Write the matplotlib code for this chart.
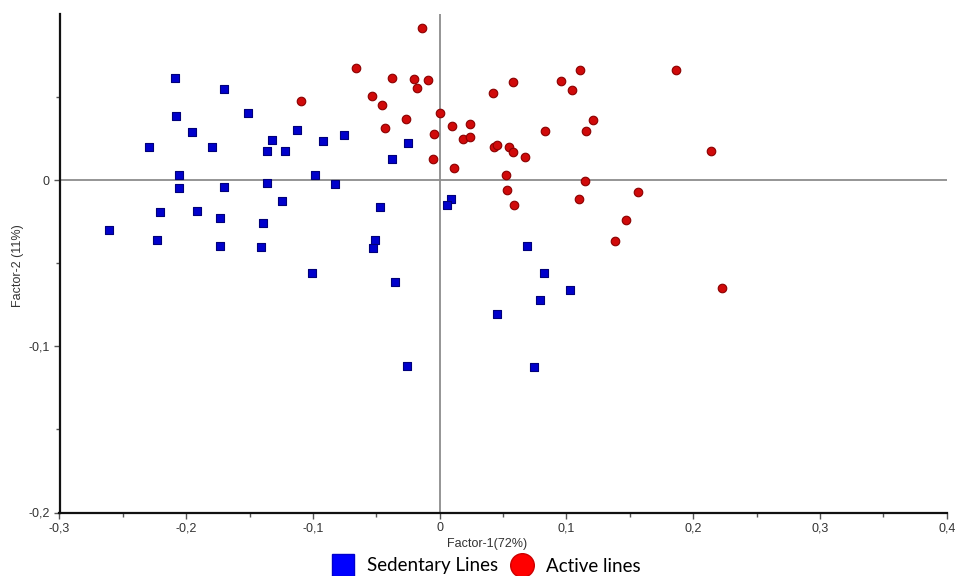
import matplotlib.pyplot as plt
from matplotlib.lines import Line2D
from matplotlib.ticker import FixedLocator, FuncFormatter

OUTPUT_IMAGE = "out.png"

# puntos (Factor-1, Factor-2)
sedentary_x = [-0.2086, -0.1705, -0.1513, -0.2078, -0.1952, -0.2294, -0.1800, -0.1324,
               -0.1365, -0.1221, -0.1126, -0.0918, -0.0758, -0.0250, -0.0376, -0.2058,
               -0.2058, -0.1705, -0.1365, -0.0984, -0.0823, -0.1247, -0.2210, -0.1916,
               -0.1734, -0.1391, -0.0471, -0.2607, -0.2228, -0.1734, -0.1413, -0.0507,
               -0.0529, -0.1010, -0.0355, 0.0092, 0.0061, -0.0260, 0.0450, 0.0689,
               0.0823, 0.1028, 0.0792, 0.0744]
sedentary_y = [0.0616, 0.0546, 0.0407, 0.0385, 0.0291, 0.0199, 0.0199, 0.0241,
               0.0174, 0.0174, 0.0299, 0.0235, 0.0271, 0.0221, 0.0125, 0.0030,
               -0.0050, -0.0042, -0.0020, 0.0030, -0.0026, -0.0128, -0.0193, -0.0185,
               -0.0230, -0.0257, -0.0164, -0.0301, -0.0359, -0.0397, -0.0403, -0.0359,
               -0.0411, -0.0561, -0.0612, -0.0113, -0.0150, -0.1117, -0.0808, -0.0395,
               -0.0561, -0.0662, -0.0720, -0.1125]

active_x = [-0.0137, -0.0661, -0.0376, -0.0203, -0.0092, -0.0176, -0.1097, -0.0537,
            -0.0452, -0.0263, -0.0432, 0.0006, 0.0100, -0.0042, -0.0053, 0.0110,
            0.0242, 0.0184, 0.0237, 0.0424, 0.0576, 0.0432, 0.0452, 0.0547,
            0.0579, 0.0671, 0.0831, 0.0957, 0.1107, 0.1042, 0.1213, 0.1155,
            0.1868, 0.2141, 0.0519, 0.0529, 0.0584, 0.1147, 0.1097, 0.1563,
            0.1468, 0.1384, 0.2228]
active_y = [0.0913, 0.0674, 0.0616, 0.0608, 0.0602, 0.0552, 0.0474, 0.0507,
            0.0455, 0.0371, 0.0313, 0.0407, 0.0327, 0.0277, 0.0125, 0.0074,
            0.0341, 0.0248, 0.0257, 0.0523, 0.0588, 0.0199, 0.0211, 0.0199,
            0.0167, 0.0138, 0.0297, 0.0596, 0.0660, 0.0543, 0.0363, 0.0297,
            0.0660, 0.0174, 0.0030, -0.0058, -0.0150, -0.0006, -0.0116, -0.0070,
            -0.0242, -0.0367, -0.0650]

x_major = [-0.3, -0.2, -0.1, 0.0, 0.1, 0.2, 0.3, 0.4]
x_minor = [-0.25, -0.15, -0.05, 0.05, 0.15, 0.25, 0.35]
y_major = [-0.2, -0.1, 0.0]
y_minor = [-0.15, -0.05, 0.05]


def coma(v, pos):
    if abs(v) < 1e-9:
        return "0"
    return f"{v:.1f}".replace(".", ",")


def main():
    plt.rcParams['font.family'] = ['Liberation Sans', 'DejaVu Sans']
    fig = plt.figure(figsize=(9.55, 5.76), dpi=100)
    ax = fig.add_axes([59.5 / 955, 1 - 512.5 / 576, (946.7 - 59.5) / 955, (512.5 - 14) / 576])

    ax.axhline(0, color='#8c8c8c', lw=1.3, zorder=1)
    ax.axvline(0, color='#8c8c8c', lw=1.3, zorder=1)

    ax.scatter(sedentary_x, sedentary_y, marker='s', s=30, color='#0000cc',
               edgecolor='#00007a', linewidth=0.8, zorder=3)
    ax.scatter(active_x, active_y, marker='o', s=38, color='#d00a0a',
               edgecolor='#8a0000', linewidth=0.8, zorder=3)

    ax.set_xlim(-0.3, 0.4)
    ax.set_ylim(-0.2, 0.1)

    for s in ['top', 'right']:
        ax.spines[s].set_visible(False)
    for s in ['left', 'bottom']:
        ax.spines[s].set_linewidth(1.6)
        ax.spines[s].set_color('#111111')

    ax.xaxis.set_major_locator(FixedLocator(x_major))
    ax.xaxis.set_minor_locator(FixedLocator(x_minor))
    ax.yaxis.set_major_locator(FixedLocator(y_major))
    ax.yaxis.set_minor_locator(FixedLocator(y_minor))
    ax.xaxis.set_major_formatter(FuncFormatter(coma))
    ax.yaxis.set_major_formatter(FuncFormatter(coma))

    ax.tick_params(which='major', length=4, width=1, color='#555555', labelsize=9,
                   labelcolor='#333333', pad=3)
    ax.tick_params(which='minor', length=3, width=1, color='#555555')

    fig.text(487 / 955, 1 - 544 / 576, "Factor-1(72%)", ha='center', va='center',
             fontsize=9, color='#333333')
    fig.text(18 / 955, 1 - 266 / 576, "Factor-2 (11%)", ha='center', va='center',
             rotation=90, fontsize=9, color='#333333')

    handles = [
        Line2D([], [], marker='s', linestyle='none', markersize=16,
               markerfacecolor='#0000ff', markeredgecolor='#0000cc'),
        Line2D([], [], marker='o', linestyle='none', markersize=17,
               markerfacecolor='#ff0000', markeredgecolor='#cc0000'),
    ]
    fig.legend(handles, ["Sedentary Lines", "Active lines"], ncol=2, frameon=False,
               loc='center', bbox_to_anchor=(486 / 955, 1 - 566 / 576),
               prop={'family': 'Lato', 'size': 13.5}, handletextpad=0.65,
               columnspacing=0.7, handlelength=1.2, borderpad=0)

    fig.savefig(OUTPUT_IMAGE, dpi=100)
    plt.close(fig)


if __name__ == "__main__":
    main()
